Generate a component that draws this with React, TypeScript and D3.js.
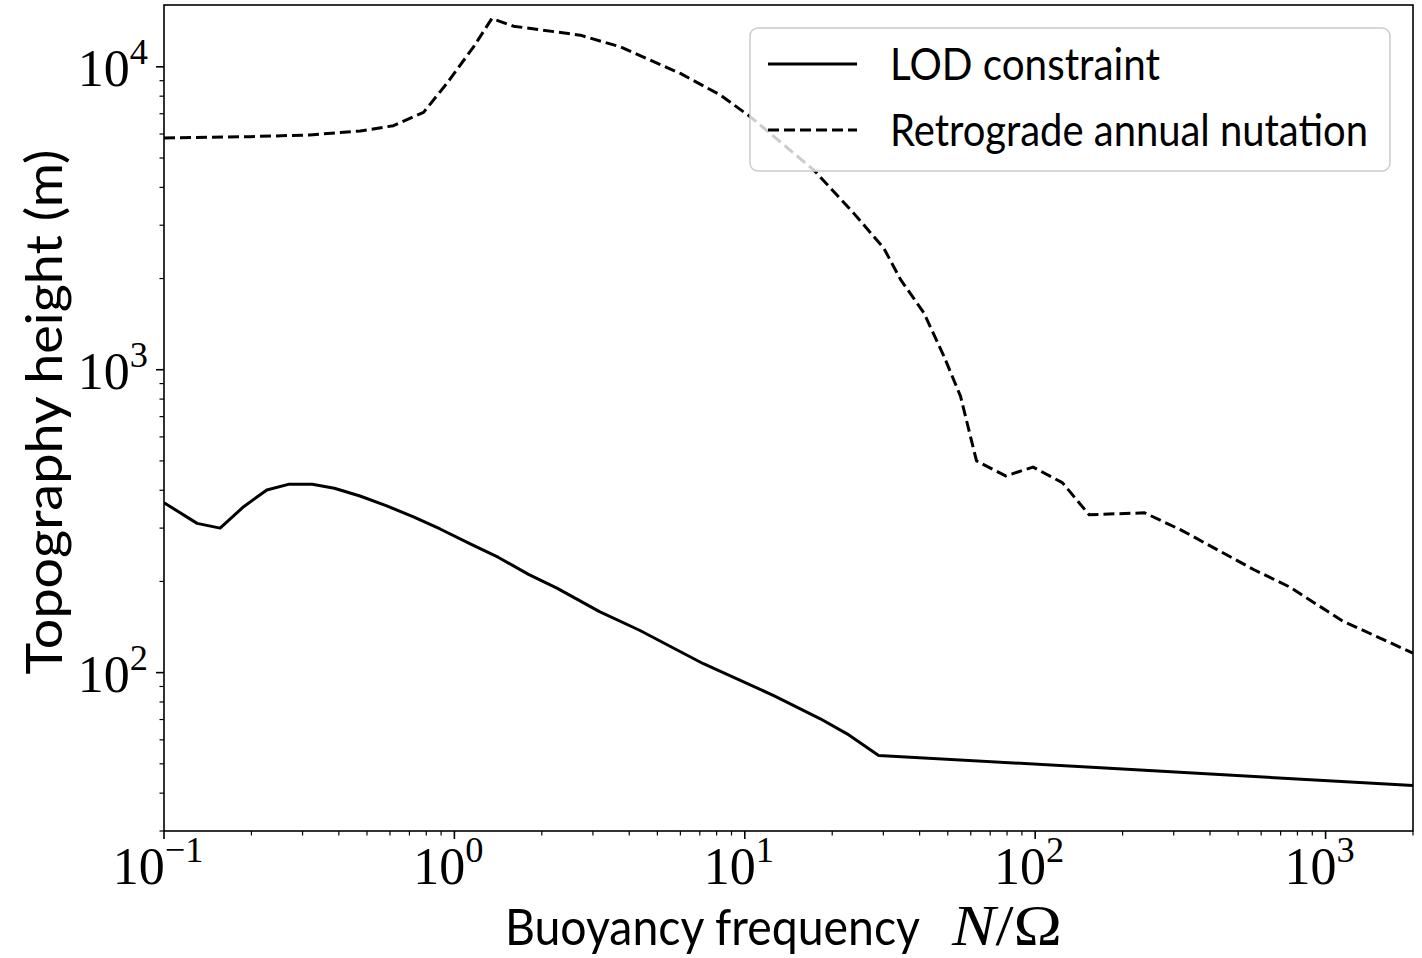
import React from "react";
import * as d3 from "d3";

const lodX = [0.1, 0.13, 0.156, 0.188, 0.226, 0.27, 0.324, 0.386, 0.473, 0.585, 0.723, 0.893, 1.134, 1.419, 1.8, 2.254, 3.16, 4.34, 7.2, 12.58, 18.2, 22.5, 28.9, 168, 2000];
const lodY = [364, 311, 300, 353, 401, 419, 419, 406, 383, 355, 327, 298, 266, 240, 211, 190, 159, 138, 107, 84, 70.4, 62.8, 53.3, 48.5, 42.4];

const nutX = [0.1, 0.198, 0.318, 0.474, 0.617, 0.783, 0.942, 1.164, 1.346, 1.598, 2.714, 3.726, 6.0, 8.24, 10.45, 17.27, 23.7, 30.1, 34.4, 41.4, 48.5, 55.3, 62.8, 79.1, 98.3, 124, 153.4, 238, 319.5, 565, 750, 1145, 2000];
const nutY = [5821, 5882, 5957, 6140, 6393, 7074, 8816, 11640, 14440, 13620, 12720, 11640, 9510, 8070, 6840, 4566, 3289, 2521, 1983, 1540, 1108, 818, 500, 446, 477, 424, 332, 337, 295, 219, 192, 148, 116];

const xMajor = [0.1, 1, 10, 100, 1000];
const xExp = ["\u22121", "0", "1", "2", "3"];
const yMajor = [100, 1000, 10000];
const yExp = ["2", "3", "4"];

const seriesNames = ["LOD constraint", "Retrograde annual nutation"];
const xLabel = "Buoyancy frequency";
const yLabel = "Topography height (m)";

const W = 1422, H = 958;
const L = 164, R = 1413, T = 5, B = 831;

export default function App() {
  const x = d3.scaleLog().domain([0.1, 2000]).range([L, R]);
  const y = d3.scaleLog().domain([30, 16000]).range([B, T]);
  const line = d3.line<[number, number]>().x(d => x(d[0])).y(d => y(d[1]));
  const lod = line(lodX.map((v, i) => [v, lodY[i]]))!;
  const nut = line(nutX.map((v, i) => [v, nutY[i]]))!;

  const xMinor = x.ticks().filter(t => !xMajor.some(m => Math.abs(m - t) / m < 1e-6));
  const yMinor = y.ticks().filter(t => !yMajor.some(m => Math.abs(m - t) / m < 1e-6));

  const serif = "'Liberation Serif', 'DejaVu Serif', serif";
  const sans = "Lato, 'Open Sans', sans-serif";
  const tickFs = 52;
  const axisColor = "#000";
  const lw = 3;
  const dash = "11,5";

  return (
    <svg width={W} height={H} style={{ position: "absolute", left: 0, top: 0, background: "#fff" }}>
      <rect x={0} y={0} width={W} height={H} fill="#fff" />
      <defs>
        <clipPath id="plotclip">
          <rect x={L} y={T} width={R - L} height={B - T} />
        </clipPath>
      </defs>
      <g clipPath="url(#plotclip)">
        <path d={lod} fill="none" stroke="#000" strokeWidth={lw} strokeLinejoin="round" />
        <path d={nut} fill="none" stroke="#000" strokeWidth={lw} strokeDasharray={dash} strokeLinejoin="round" />
      </g>
      <rect x={L} y={T} width={R - L} height={B - T} fill="none" stroke={axisColor} strokeWidth={1.6} />
      {xMajor.map((t, i) => (
        <g key={"xm" + i}>
          <line x1={x(t)} x2={x(t)} y1={B} y2={B + 8} stroke={axisColor} strokeWidth={1.6} />
          <text x={x(t) - 6} y={B + 53} textAnchor="middle" fontFamily={serif} fontSize={tickFs}>
            10<tspan fontSize={tickFs * 0.7} dy={-tickFs * 0.42}>{xExp[i]}</tspan>
          </text>
        </g>
      ))}
      {xMinor.map((t, i) => (
        <line key={"xn" + i} x1={x(t)} x2={x(t)} y1={B} y2={B + 4.5} stroke={axisColor} strokeWidth={1.2} />
      ))}
      {yMajor.map((t, i) => (
        <g key={"ym" + i}>
          <line x1={L} x2={L - 8} y1={y(t)} y2={y(t)} stroke={axisColor} strokeWidth={1.6} />
          <text x={L - 16} y={y(t) + 19} textAnchor="end" fontFamily={serif} fontSize={tickFs}>
            10<tspan fontSize={tickFs * 0.7} dy={-tickFs * 0.42}>{yExp[i]}</tspan>
          </text>
        </g>
      ))}
      {yMinor.map((t, i) => (
        <line key={"yn" + i} x1={L} x2={L - 4.5} y1={y(t)} y2={y(t)} stroke={axisColor} strokeWidth={1.2} />
      ))}
      <text x={505} y={945} fontFamily={sans} fontSize={50} textLength={415} lengthAdjust="spacingAndGlyphs">{xLabel}</text>
      <text x={952} y={945} fontFamily={serif} fontSize={56} textLength={110} lengthAdjust="spacingAndGlyphs">
        <tspan fontStyle="italic">N</tspan>/Ω
      </text>
      <text transform={`translate(62, ${(T + B) / 2 - 6}) rotate(-90)`} textAnchor="middle" fontFamily={sans} fontSize={50} textLength={525} lengthAdjust="spacingAndGlyphs">
        {yLabel}
      </text>
      <g>
        <rect x={750} y={28} width={640} height={143} rx={8} ry={8} fill="#fff" fillOpacity={0.8} stroke="#cccccc" strokeWidth={1.5} />
        <line x1={768} x2={857} y1={64} y2={64} stroke="#000" strokeWidth={lw} />
        <line x1={768} x2={857} y1={130} y2={130} stroke="#000" strokeWidth={lw} strokeDasharray={dash} />
        <text x={890} y={80} fontFamily={sans} fontSize={44} textLength={270} lengthAdjust="spacingAndGlyphs">{seriesNames[0]}</text>
        <text x={890} y={146} fontFamily={sans} fontSize={44} textLength={478} lengthAdjust="spacingAndGlyphs">{seriesNames[1]}</text>
      </g>
    </svg>
  );
}
